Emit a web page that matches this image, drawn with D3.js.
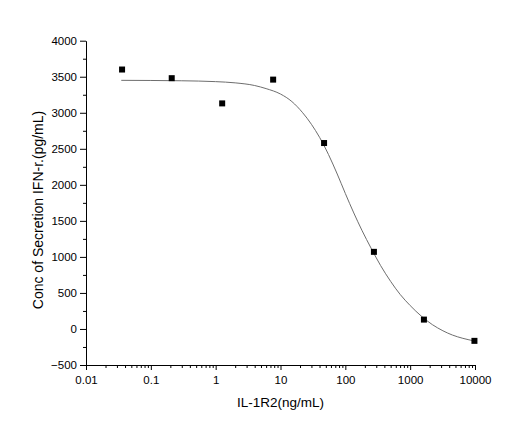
<!DOCTYPE html>
<html>
<head>
<meta charset="utf-8">
<script src="https://cdn.jsdelivr.net/npm/d3@7"></script>
<style>
  body { margin: 0; background: #fff; }
  svg { display: block; font-family: "Liberation Sans", Arial, sans-serif; }
</style>
</head>
<body>
<div class="chart"></div>
<script>
// measured points
const doseX = [0.036, 0.21, 1.26, 7.7, 47, 276, 1630, 9800];
const secretionY = [3600, 3480, 3130, 3460, 2580, 1070, 130, -165];

// fitted curve
const fitX = [0.035, 0.1, 0.3, 1, 2, 4, 6, 10, 15, 22, 30, 40, 55, 75, 100, 135, 180, 250, 350, 500, 700, 1000, 1500, 2200, 3200, 4500, 6500, 10000];
const fitY = [3450, 3448, 3444, 3432, 3415, 3378, 3335, 3260, 3155, 3000, 2840, 2660, 2420, 2150, 1880, 1610, 1370, 1120, 880, 660, 480, 325, 175, 60, -25, -85, -130, -168];

const xTicks = [0.01, 0.1, 1, 10, 100, 1000, 10000];
const yTicks = [-500, 0, 500, 1000, 1500, 2000, 2500, 3000, 3500, 4000];

const width = 520, height = 445;
const margin = {top: 40.7, right: 45, bottom: 80, left: 86};

let svg = d3.select('.chart')
    .append('svg')
        .attr('width', width)
        .attr('height', height);

let xScale = d3.scaleLog()
    .domain([0.01, 10000])
    .range([margin.left, width - margin.right]);

let yScale = d3.scaleLinear()
    .domain([-500, 4000])
    .range([height - margin.bottom, margin.top]);

// minor ticks
let xMinor = [];
xTicks.slice(0, -1).forEach(d => {
    for (let k = 2; k <= 9; k++) xMinor.push(d * k);
});
let yMinor = d3.range(-250, 4000, 500);

let yAxis = d3.axisLeft(yScale)
    .tickValues(yTicks)
    .tickFormat(d3.format('d'))
    .tickSizeInner(6)
    .tickSizeOuter(0)
    .tickPadding(3);

let xAxis = d3.axisBottom(xScale)
    .tickValues(xTicks)
    .tickFormat(d => String(d))
    .tickSizeInner(5)
    .tickSizeOuter(0)
    .tickPadding(6);

let gy = svg.append('g')
    .attr('transform', `translate(${margin.left}, 0)`)
    .call(yAxis);
gy.append('g')
    .call(d3.axisLeft(yScale).tickValues(yMinor).tickSize(3).tickFormat(''))
    .select('.domain').remove();

let gx = svg.append('g')
    .attr('transform', `translate(0, ${height - margin.bottom})`)
    .call(xAxis);
gx.append('g')
    .call(d3.axisBottom(xScale).tickValues(xMinor).tickSize(3).tickFormat(''))
    .select('.domain').remove();

svg.selectAll('.tick text')
    .style('font-size', '11.5px')
    .style('font-family', '"Liberation Sans", Arial, sans-serif')
    .attr('fill', '#000');

// fitted line
let line = d3.line()
    .x((d, i) => xScale(fitX[i]))
    .y(d => yScale(d))
    .curve(d3.curveMonotoneX);

svg.append('path')
    .datum(fitY)
    .attr('d', line)
    .attr('fill', 'none')
    .attr('stroke', '#6e6e6e')
    .attr('stroke-width', 1);

// points
svg.selectAll('.pt')
    .data(secretionY)
    .enter()
    .append('rect')
        .attr('class', 'pt')
        .attr('x', (d, i) => xScale(doseX[i]) - 3)
        .attr('y', d => yScale(d) - 3)
        .attr('width', 6)
        .attr('height', 6)
        .attr('fill', '#000');

// axis titles
svg.append('text')
    .attr('x', (margin.left + width - margin.right) / 2)
    .attr('y', 407)
    .attr('text-anchor', 'middle')
    .style('font-size', '13.5px')
    .text('IL-1R2(ng/mL)');

svg.append('text')
    .attr('transform', `translate(43, 210) rotate(-90)`)
    .attr('text-anchor', 'middle')
    .style('font-size', '14px')
    .text('Conc of Secretion IFN-r.(pg/mL)');
</script>
</body>
</html>
